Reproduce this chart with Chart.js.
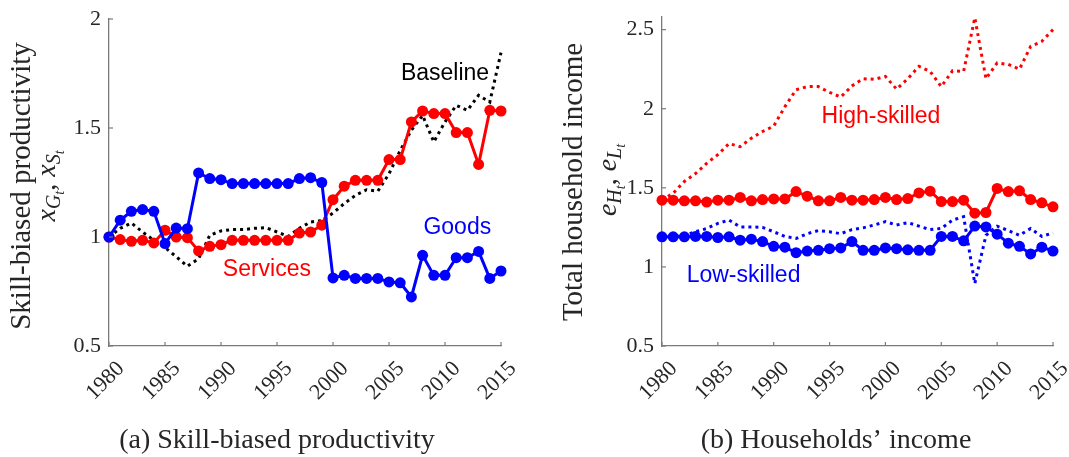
<!DOCTYPE html>
<html><head><meta charset="utf-8">
<script src="https://cdn.jsdelivr.net/npm/chart.js@4.4.0/dist/chart.umd.min.js"></script>
<style>
html,body{margin:0;padding:0;background:#fff;}
#wrap{position:relative;width:1069px;height:457px;overflow:hidden;background:#fff;}
.pane{position:absolute;top:0;height:457px;}
</style></head><body>
<div id="wrap">
  <div class="pane" style="left:0;width:535px"><canvas id="c1" width="535" height="457"></canvas></div>
  <div class="pane" style="left:535px;width:534px"><canvas id="c2" width="534" height="457"></canvas></div>
</div>
<script>
// ---------- data ----------
const years = [1980,1981,1982,1983,1984,1985,1986,1987,1988,1989,1990,1991,1992,1993,1994,1995,1996,1997,1998,1999,2000,2001,2002,2003,2004,2005,2006,2007,2008,2009,2010,2011,2012,2013,2014,2015];
const xTickValues = [1980,1985,1990,1995,2000,2005,2010,2015];

// Panel (a): skill-biased productivity
const goods = [1.00,1.077,1.118,1.126,1.118,0.97,1.041,1.038,1.294,1.268,1.263,1.245,1.245,1.245,1.245,1.245,1.245,1.268,1.272,1.25,0.812,0.824,0.81,0.81,0.81,0.794,0.79,0.725,0.916,0.824,0.824,0.905,0.905,0.934,0.81,0.844];
const services = [1.00,0.988,0.98,0.985,0.973,1.031,1.0,0.997,0.936,0.957,0.965,0.985,0.985,0.985,0.985,0.985,0.985,1.018,1.023,1.054,1.171,1.233,1.26,1.26,1.26,1.355,1.355,1.528,1.578,1.566,1.566,1.479,1.479,1.333,1.581,1.578];
const baseline = [1.0,1.04,1.064,1.023,0.985,0.952,0.91,0.866,0.9,1.008,1.028,1.034,1.034,1.04,1.043,1.023,1.003,1.04,1.069,1.075,1.11,1.153,1.191,1.217,1.21,1.29,1.397,1.49,1.558,1.436,1.528,1.604,1.581,1.65,1.619,1.846];

// Panel (b): households' income
const highSkilled = [1.422,1.422,1.418,1.418,1.41,1.422,1.422,1.439,1.418,1.426,1.43,1.43,1.476,1.447,1.418,1.418,1.439,1.422,1.422,1.426,1.439,1.426,1.432,1.468,1.479,1.413,1.413,1.422,1.34,1.344,1.496,1.476,1.481,1.426,1.405,1.38];
const highSkilledBase = [1.422,1.466,1.54,1.59,1.655,1.71,1.78,1.76,1.814,1.856,1.89,2.013,2.12,2.14,2.14,2.103,2.074,2.144,2.19,2.186,2.204,2.124,2.19,2.268,2.236,2.14,2.24,2.236,2.575,2.19,2.29,2.28,2.25,2.394,2.426,2.50];
const lowSkilled = [1.19,1.19,1.19,1.193,1.193,1.186,1.19,1.169,1.175,1.16,1.13,1.125,1.09,1.10,1.105,1.115,1.12,1.16,1.105,1.105,1.12,1.115,1.108,1.105,1.105,1.193,1.193,1.165,1.258,1.253,1.207,1.15,1.13,1.082,1.125,1.10];
const lowSkilledBase = [1.19,1.19,1.2,1.222,1.243,1.275,1.296,1.253,1.253,1.25,1.222,1.193,1.18,1.21,1.23,1.222,1.21,1.236,1.247,1.265,1.286,1.265,1.28,1.258,1.236,1.243,1.296,1.318,0.895,1.2,1.258,1.23,1.2,1.243,1.193,1.215];

// ---------- styling ----------
const SERIF = '"Liberation Serif","Times New Roman",serif';
const SANS = '"Liberation Sans",Arial,Helvetica,sans-serif';
const AXIS = '#7a7a7a';
const TXT = '#262626';
const RED = '#ff0000', BLUE = '#0000ff';

function pts(vals){ return years.map((y,i)=>({x:y, y:vals[i]})); }
function solid(vals,color){ return {data:pts(vals), borderColor:color, backgroundColor:color, pointBackgroundColor:color, borderWidth:3, pointRadius:5.5, pointBorderWidth:0, clip:false}; }
function dotted(vals,color){ return {data:pts(vals), borderColor:color, borderWidth:3, borderDash:[3,4], pointRadius:0, clip:false}; }

function drawSeq(ctx, segs){
  let w = 0;
  segs.forEach(s=>{ ctx.font = (s.it?'italic ':'') + s.size + 'px ' + SERIF; s.w = ctx.measureText(s.t).width; w += s.w; });
  let x = -w/2;
  segs.forEach(s=>{ ctx.font = (s.it?'italic ':'') + s.size + 'px ' + SERIF; ctx.fillText(s.t, x, s.dy); x += s.w; });
}

function deco(cfg){
  return {
    id:'deco',
    afterDraw(chart){
      const ctx = chart.ctx, xs = chart.scales.x, ys = chart.scales.y, a = chart.chartArea;
      ctx.save();
      // inward tick marks
      ctx.strokeStyle = AXIS; ctx.lineWidth = 1.2;
      xTickValues.forEach(v=>{
        const px = xs.getPixelForValue(v);
        ctx.beginPath(); ctx.moveTo(px, a.bottom); ctx.lineTo(px, a.bottom-4); ctx.stroke();
      });
      ys.ticks.forEach(t=>{
        const py = ys.getPixelForValue(t.value);
        ctx.beginPath(); ctx.moveTo(a.left, py); ctx.lineTo(a.left+4, py); ctx.stroke();
      });
      // in-plot labels
      ctx.textAlign = 'center'; ctx.textBaseline = 'middle';
      ctx.font = '23px ' + SANS;
      cfg.notes.forEach(n=>{
        ctx.fillStyle = n.color;
        ctx.fillText(n.text, xs.getPixelForValue(n.x), ys.getPixelForValue(n.y));
      });
      // y-axis title (two lines)
      ctx.fillStyle = TXT;
      ctx.save();
      ctx.translate(cfg.titleX, cfg.titleY); ctx.rotate(-Math.PI/2);
      ctx.textAlign = 'center'; ctx.textBaseline = 'middle';
      ctx.font = '29px ' + SERIF;
      ctx.fillText(cfg.title, 0, 0);
      ctx.restore();
      ctx.save();
      ctx.translate(cfg.mathX, cfg.mathY); ctx.rotate(-Math.PI/2);
      ctx.textAlign = 'left'; ctx.textBaseline = 'alphabetic';
      drawSeq(ctx, cfg.math);
      ctx.restore();
      // caption
      ctx.textAlign = 'center'; ctx.textBaseline = 'alphabetic';
      ctx.font = '28px ' + SERIF;
      ctx.fillText(cfg.caption, cfg.capX, 448);
      ctx.restore();
    }
  };
}

function axisX(){
  return {type:'linear', min:1980, max:2015,
    ticks:{stepSize:5, minRotation:45, maxRotation:45, autoSkip:false, color:TXT, padding:10, labelOffset:12,
      font:{family:SERIF, size:22}, callback:v=>String(v)},
    grid:{display:false, drawTicks:false},
    border:{display:true, color:AXIS, width:1.3},
    afterFit(s){ s.height = 111; s.paddingLeft = 0; s.paddingRight = 0; }};
}
function axisY(min,max,w){
  return {min:min, max:max,
    ticks:{stepSize:0.5, includeBounds:false, color:TXT, padding:8,
      font:{family:SERIF, size:22}, callback:v=>String(v)},
    grid:{display:false, drawTicks:false},
    border:{display:true, color:AXIS, width:1.3},
    afterFit(s){ s.width = w; s.paddingTop = 0; s.paddingBottom = 0; }};
}

new Chart(document.getElementById('c1'), {
  type:'line',
  data:{datasets:[ solid(goods,BLUE), solid(services,RED), dotted(baseline,'#000000') ]},
  options:{responsive:false, animation:false,
    layout:{padding:{left:0,right:34,top:19,bottom:0}},
    plugins:{legend:{display:false}, tooltip:{enabled:false}},
    scales:{x:axisX(), y:axisY(0.5,2,109)}},
  plugins:[deco({
    notes:[{text:'Baseline',x:2010.0,y:1.75,color:'#000000'},
           {text:'Services',x:1994.1,y:0.852,color:RED},
           {text:'Goods',x:2011.1,y:1.044,color:BLUE}],
    title:'Skill-biased productivity', titleX:22, titleY:186,
    math:[{t:'x',size:28,it:true,dy:0},{t:'G',size:20,it:true,dy:5},{t:'t',size:14,it:true,dy:9},
          {t:', ',size:28,it:false,dy:0},
          {t:'x',size:28,it:true,dy:0},{t:'S',size:20,it:true,dy:5},{t:'t',size:14,it:true,dy:9}],
    mathX:55, mathY:186,
    caption:'(a) Skill-biased productivity', capX:277
  })]
});

new Chart(document.getElementById('c2'), {
  type:'line',
  data:{datasets:[ solid(highSkilled,RED), solid(lowSkilled,BLUE), dotted(highSkilledBase,RED), dotted(lowSkilledBase,BLUE) ]},
  options:{responsive:false, animation:false,
    layout:{padding:{left:0,right:16,top:17,bottom:0}},
    plugins:{legend:{display:false}, tooltip:{enabled:false}},
    scales:{x:axisX(), y:axisY(0.5,2.58,127)}},
  plugins:[deco({
    notes:[{text:'High-skilled',x:1999.6,y:1.947,color:RED},
           {text:'Low-skilled',x:1987.3,y:0.947,color:BLUE}],
    title:'Total household income', titleX:39, titleY:182,
    math:[{t:'e',size:28,it:true,dy:0},{t:'H',size:20,it:true,dy:5},{t:'t',size:14,it:true,dy:9},
          {t:', ',size:28,it:false,dy:0},
          {t:'e',size:28,it:true,dy:0},{t:'L',size:20,it:true,dy:5},{t:'t',size:14,it:true,dy:9}],
    mathX:81, mathY:180,
    caption:'(b) Households\u2019 income', capX:301
  })]
});
</script>
</body></html>
